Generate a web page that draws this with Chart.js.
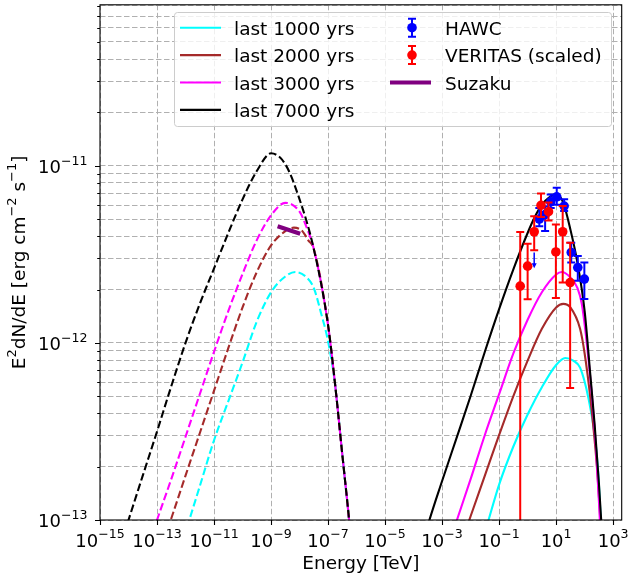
<!DOCTYPE html>
<html>
<head>
<meta charset="utf-8">
<script src="https://cdn.jsdelivr.net/npm/chart.js@4.4.1/dist/chart.umd.min.js"></script>
<style>
  html, body { margin: 0; padding: 0; background: #fff; }
  canvas { display: block; }
</style>
</head>
<body>
<canvas id="sed" width="629" height="582"></canvas>
<script>
// energies in TeV, fluxes E^2 dN/dE in erg cm^-2 s^-1

// synchrotron (dashed)
const syncE7000 = [3.16e-15, 1e-14, 3.16e-14, 1e-13, 3.16e-13, 1e-12, 3.16e-12, 1e-11, 3.16e-11, 1e-10, 3.16e-10, 1e-9, 3.16e-9, 1e-8, 3.16e-8, 1e-7, 1.78e-7, 3.16e-7, 5.62e-7, 7.94e-7];
const syncF7000 = [5.62e-14, 1.0e-13, 1.78e-13, 3.16e-13, 5.69e-13, 1.0e-12, 1.66e-12, 2.63e-12, 4.17e-12, 6.46e-12, 9.33e-12, 1.175e-11, 1.02e-11, 6.46e-12, 3.39e-12, 1.26e-12, 5.75e-13, 2.34e-13, 9.55e-14, 5.0e-14];

const syncE3000 = [3.16e-14, 1e-13, 3.16e-13, 1e-12, 3.16e-12, 1e-11, 3.16e-11, 1e-10, 3.16e-10, 1e-9, 3.16e-9, 1e-8, 1.78e-8, 3.16e-8, 1e-7, 1.78e-7, 3.16e-7, 5.62e-7, 7.94e-7];
const syncF3000 = [5.75e-14, 1.0e-13, 1.70e-13, 2.95e-13, 5.13e-13, 8.91e-13, 1.51e-12, 2.45e-12, 3.80e-12, 5.25e-12, 6.17e-12, 5.50e-12, 4.47e-12, 3.39e-12, 1.26e-12, 5.75e-13, 2.34e-13, 9.55e-14, 5.0e-14];

const syncE2000 = [1e-13, 3.16e-13, 1e-12, 3.16e-12, 1e-11, 3.16e-11, 1e-10, 3.16e-10, 1e-9, 3.16e-9, 6.31e-9, 1.26e-8, 2.0e-8, 3.16e-8, 1e-7, 1.78e-7, 3.16e-7, 5.62e-7, 7.94e-7];
const syncF2000 = [5.89e-14, 1.02e-13, 1.78e-13, 3.09e-13, 5.37e-13, 9.33e-13, 1.585e-12, 2.51e-12, 3.55e-12, 4.27e-12, 4.47e-12, 4.27e-12, 3.80e-12, 3.39e-12, 1.26e-12, 5.75e-13, 2.34e-13, 9.55e-14, 5.0e-14];

const syncE1000 = [3.16e-13, 1e-12, 3.16e-12, 1e-11, 3.16e-11, 1e-10, 3.16e-10, 1e-9, 3.16e-9, 7.08e-9, 1.78e-8, 3.16e-8, 5.62e-8, 1e-7, 1.78e-7, 3.16e-7, 5.62e-7, 7.94e-7];
const syncF1000 = [4.57e-14, 8.51e-14, 1.55e-13, 2.82e-13, 4.68e-13, 7.76e-13, 1.32e-12, 1.93e-12, 2.37e-12, 2.51e-12, 2.34e-12, 2.04e-12, 1.48e-12, 1.02e-12, 5.75e-13, 2.34e-13, 9.55e-14, 5.0e-14];

// inverse Compton (solid)
const icE7000 = [2.0e-4, 3.16e-4, 1e-3, 3.16e-3, 1e-2, 3.16e-2, 0.1, 0.316, 1, 1.78, 3.16, 5.62, 10, 17.8, 31.6, 56.2, 100, 158, 224, 316, 398, 447];
const icF7000 = [7.08e-14, 9.33e-14, 1.66e-13, 2.88e-13, 5.01e-13, 8.91e-13, 1.55e-12, 2.60e-12, 4.17e-12, 5.13e-12, 6.03e-12, 6.61e-12, 6.92e-12, 6.17e-12, 4.37e-12, 2.82e-12, 1.51e-12, 6.61e-13, 3.47e-13, 1.62e-13, 8.91e-14, 6.31e-14];

const icE3000 = [2.0e-3, 3.16e-3, 1e-2, 3.16e-2, 0.1, 0.316, 1, 3.16, 10, 15.8, 31.6, 56.2, 79.4, 117, 178, 251, 331, 398];
const icF3000 = [7.76e-14, 9.77e-14, 1.70e-13, 3.02e-13, 5.13e-13, 8.71e-13, 1.35e-12, 1.93e-12, 2.43e-12, 2.51e-12, 2.34e-12, 2.04e-12, 1.66e-12, 1.02e-12, 5.13e-13, 2.51e-13, 1.12e-13, 5.62e-14];

const icE2000 = [5.0e-3, 1e-2, 3.16e-2, 0.1, 0.316, 1, 3.16, 10, 17.8, 31.6, 69.2, 100, 158, 269, 355, 417];
const icF2000 = [7.59e-14, 1.05e-13, 1.78e-13, 3.02e-13, 5.01e-13, 7.94e-13, 1.20e-12, 1.585e-12, 1.66e-12, 1.585e-12, 1.20e-12, 8.71e-13, 4.90e-13, 2.0e-13, 1.0e-13, 6.03e-14];

const icE1000 = [2.51e-2, 3.16e-2, 0.1, 0.316, 1, 3.16, 10, 20.9, 39.8, 69.2, 135, 234, 295, 355, 417];
const icF1000 = [7.59e-14, 8.51e-14, 1.585e-13, 2.60e-13, 3.94e-13, 5.62e-13, 7.50e-13, 8.22e-13, 7.94e-13, 7.24e-13, 4.90e-13, 2.88e-13, 1.91e-13, 1.12e-13, 6.31e-14];

// Suzaku X-ray band
const suzakuE = [1.70e-9, 1.05e-8];
const suzakuF = [4.56e-12, 4.13e-12];

// HAWC
const hawcE  = [2.57, 4.11, 6.46, 10.5, 19.1, 33.9, 57.5, 97.7];
const hawcF  = [5.0e-12, 5.3e-12, 6.25e-12, 6.67e-12, 5.92e-12, 3.24e-12, 2.66e-12, 2.29e-12];
const hawcHi = [5.78e-12, 5.9e-12, 6.89e-12, 7.5e-12, 6.46e-12, 3.67e-12, 3.09e-12, 2.84e-12];
const hawcLo = [4.56e-12, 4.28e-12, 5.78e-12, 6.03e-12, 5.55e-12, 2.84e-12, 2.24e-12, 1.77e-12];
const hawcUlE = [1.7];
const hawcUlF = [3.24e-12];
const hawcUlTip = [2.64e-12];

// VERITAS (scaled)
const veritasE  = [0.55, 1.0, 1.7, 2.95, 5.4, 9.8, 17, 31];
const veritasF  = [2.09e-12, 2.71e-12, 4.24e-12, 5.98e-12, 5.5e-12, 3.26e-12, 4.24e-12, 2.19e-12];
const veritasHi = [4.22e-12, 3.63e-12, 5.18e-12, 6.97e-12, 6.2e-12, 4.66e-12, 5.92e-12, 3.67e-12];
const veritasLo = [1e-14, 1.76e-12, 3.33e-12, 5.13e-12, 4.9e-12, 1.79e-12, 2.19e-12, 5.57e-13];

const xTicks = [1e-15, 1e-13, 1e-11, 1e-9, 1e-7, 1e-5, 1e-3, 1e-1, 1e1, 1e3];
const yTicks = [1e-13, 2e-13, 3e-13, 4e-13, 5e-13, 6e-13, 7e-13, 8e-13, 9e-13,
                1e-12, 2e-12, 3e-12, 4e-12, 5e-12, 6e-12, 7e-12, 8e-12, 9e-12,
                1e-11, 2e-11, 3e-11, 4e-11, 5e-11, 6e-11, 7e-11, 8e-11];

const CYAN = '#00ffff', BROWN = '#a52a2a', MAGENTA = '#ff00ff', BLACK = '#000000';
const FONT = '"DejaVu Sans"';

const pts = (es, fs) => es.map((e, i) => ({x: e, y: fs[i]}));
const isDecade = v => Math.abs(Math.log10(v) - Math.round(Math.log10(v))) < 1e-6;

function curve(label, color, es, fs, dashed, order, slot) {
  return {
    label: label, data: pts(es, fs), showLine: true, borderColor: color, backgroundColor: color,
    borderWidth: 2.1, borderDash: dashed ? [7.7, 3.3] : [], pointRadius: 0,
    cubicInterpolationMode: 'monotone', clip: 0, order: order, legendSlot: slot
  };
}

// text with mathtext-like superscripts: parts = [[text, isSup], ...]
function measureParts(ctx, parts, size) {
  let w = 0;
  parts.forEach(([t, sup]) => {
    ctx.font = (sup ? size * 0.7 : size) + 'px ' + FONT;
    w += ctx.measureText(t).width;
  });
  return w;
}
function drawParts(ctx, parts, size, x, base) {
  parts.forEach(([t, sup]) => {
    ctx.font = (sup ? size * 0.7 : size) + 'px ' + FONT;
    ctx.fillText(t, x, sup ? base - size * 0.465 : base);
    x += ctx.measureText(t).width;
  });
}
const powParts = v => {
  const e = Math.round(Math.log10(v));
  return [['10', false], [(e < 0 ? '\u2212' : '') + Math.abs(e), true]];
};

// error bars and upper-limit arrows, drawn just before each point set
const errorBars = {
  id: 'errorBars',
  beforeDatasetDraw(chart, args) {
    const ds = chart.data.datasets[args.index];
    if (!ds.errLo && !ds.ulTip) return;
    const {ctx, chartArea: a, scales: {x, y}} = chart;
    ctx.save();
    ctx.beginPath();
    ctx.rect(a.left, a.top, a.right - a.left, a.bottom - a.top);
    ctx.clip();
    ctx.strokeStyle = ds.borderColor;
    ctx.fillStyle = ds.borderColor;
    ds.data.forEach((p, i) => {
      const px = x.getPixelForValue(p.x);
      if (ds.errLo) {
        const y1 = y.getPixelForValue(ds.errLo[i]);
        const y2 = y.getPixelForValue(ds.errHi[i]);
        ctx.lineWidth = 2;
        ctx.beginPath();
        ctx.moveTo(px, y1); ctx.lineTo(px, y2);
        ctx.moveTo(px - 4, y1); ctx.lineTo(px + 4, y1);
        ctx.moveTo(px - 4, y2); ctx.lineTo(px + 4, y2);
        ctx.stroke();
      } else {
        const y1 = y.getPixelForValue(p.y);
        const y2 = y.getPixelForValue(ds.ulTip[i]);
        ctx.lineWidth = 1.5;
        ctx.beginPath();
        ctx.moveTo(px, y1); ctx.lineTo(px, y2 - 4);
        ctx.stroke();
        ctx.beginPath();
        ctx.moveTo(px - 2.5, y2 - 5); ctx.lineTo(px + 2.5, y2 - 5); ctx.lineTo(px, y2);
        ctx.closePath();
        ctx.fill();
      }
    });
    ctx.restore();
  }
};

// axes box, outward tick marks, tick labels and y title
const frame = {
  id: 'frame',
  afterDatasetsDraw(chart) {
    const {ctx, chartArea: a, scales: {x, y}} = chart;
    ctx.save();
    ctx.strokeStyle = '#000';
    ctx.lineWidth = 1.1;
    ctx.strokeRect(a.left, a.top, a.right - a.left, a.bottom - a.top);
    ctx.beginPath();
    x.ticks.forEach(t => {
      const px = Math.round(x.getPixelForValue(t.value)) + 0.5;
      ctx.moveTo(px, a.bottom); ctx.lineTo(px, a.bottom + 5);
    });
    y.ticks.forEach(t => {
      const py = Math.round(y.getPixelForValue(t.value)) + 0.5;
      ctx.moveTo(a.left, py); ctx.lineTo(a.left - (isDecade(t.value) ? 5 : 2.8), py);
    });
    ctx.stroke();

    ctx.fillStyle = '#000';
    ctx.textAlign = 'left';
    ctx.textBaseline = 'alphabetic';
    x.ticks.forEach(t => {
      const parts = powParts(t.value);
      const w = measureParts(ctx, parts, 18);
      drawParts(ctx, parts, 18, x.getPixelForValue(t.value) - w / 2, a.bottom + 26.7);
    });
    y.ticks.forEach(t => {
      if (!isDecade(t.value)) return;
      const parts = powParts(t.value);
      const w = measureParts(ctx, parts, 18);
      drawParts(ctx, parts, 18, a.left - 12.5 - w, y.getPixelForValue(t.value) + 7.3);
    });

    const title = [['E', false], ['2', true], ['dN/dE [erg cm', false], ['\u22122', true],
                   [' s', false], ['\u22121', true], [']', false]];
    const tw = measureParts(ctx, title, 18.5);
    ctx.translate(25, (a.top + a.bottom) / 2);
    ctx.rotate(-Math.PI / 2);
    drawParts(ctx, title, 18.5, -tw / 2, 0);
    ctx.restore();
  }
};

// two-column legend in the upper right
const legendBox = {
  id: 'legendBox',
  afterDraw(chart) {
    const ctx = chart.ctx;
    ctx.save();
    ctx.beginPath();
    ctx.roundRect(174.5, 12.5, 437, 114, 3);
    ctx.fillStyle = 'rgba(255,255,255,0.8)';
    ctx.fill();
    ctx.strokeStyle = '#cccccc';
    ctx.lineWidth = 1;
    ctx.stroke();
    ctx.font = '18.5px ' + FONT;
    ctx.textBaseline = 'alphabetic';
    ctx.textAlign = 'left';
    chart.data.datasets.forEach(ds => {
      if (!ds.legendSlot) return;
      const [col, row] = ds.legendSlot;
      const cy = 27.7 + 27.4 * row;
      const hx = col ? 390 : 180;
      const tx = col ? 445 : 234;
      ctx.strokeStyle = ds.borderColor;
      ctx.fillStyle = ds.borderColor;
      if (ds.showLine) {
        ctx.lineWidth = ds.borderWidth;
        ctx.setLineDash([]);
        ctx.beginPath();
        ctx.moveTo(hx, cy); ctx.lineTo(hx + 41, cy);
        ctx.stroke();
      } else {
        const mx = hx + 22;
        ctx.lineWidth = 2;
        ctx.beginPath();
        ctx.moveTo(mx, cy - 9); ctx.lineTo(mx, cy + 9);
        ctx.moveTo(mx - 4, cy - 9); ctx.lineTo(mx + 4, cy - 9);
        ctx.moveTo(mx - 4, cy + 9); ctx.lineTo(mx + 4, cy + 9);
        ctx.stroke();
        ctx.beginPath();
        ctx.arc(mx, cy, 4.8, 0, Math.PI * 2);
        ctx.fill();
      }
      ctx.fillStyle = '#000';
      ctx.fillText(ds.label, tx, cy + 7.3);
    });
    ctx.restore();
  }
};

Chart.defaults.font.family = FONT;
Chart.defaults.color = '#000';

const datasets = [
  {
    label: 'VERITAS (scaled)', data: pts(veritasE, veritasF), showLine: false,
    pointRadius: 4.8, pointBorderWidth: 0, borderColor: '#ff0000', backgroundColor: '#ff0000',
    pointBackgroundColor: '#ff0000', errLo: veritasLo, errHi: veritasHi, order: 0, legendSlot: [1, 1]
  },
  {
    label: 'HAWC', data: pts(hawcE, hawcF), showLine: false,
    pointRadius: 4.8, pointBorderWidth: 0, borderColor: '#0000ff', backgroundColor: '#0000ff',
    pointBackgroundColor: '#0000ff', errLo: hawcLo, errHi: hawcHi, order: 1, legendSlot: [1, 0]
  },
  {
    label: 'HAWC upper limit', data: pts(hawcUlE, hawcUlF), showLine: false,
    pointRadius: 0, borderColor: '#0000ff', backgroundColor: '#0000ff', ulTip: hawcUlTip, order: 1
  },
  {
    label: 'Suzaku', data: pts(suzakuE, suzakuF), showLine: true, borderColor: '#800080',
    backgroundColor: '#800080', borderWidth: 4.2, pointRadius: 0, clip: 0, order: 2, legendSlot: [1, 2]
  },
  curve('last 7000 yrs', BLACK, icE7000, icF7000, false, 3, [0, 3]),
  curve('last 7000 yrs (sync)', BLACK, syncE7000, syncF7000, true, 3),
  curve('last 3000 yrs', MAGENTA, icE3000, icF3000, false, 4, [0, 2]),
  curve('last 3000 yrs (sync)', MAGENTA, syncE3000, syncF3000, true, 4),
  curve('last 2000 yrs', BROWN, icE2000, icF2000, false, 5, [0, 1]),
  curve('last 2000 yrs (sync)', BROWN, syncE2000, syncF2000, true, 5),
  curve('last 1000 yrs', CYAN, icE1000, icF1000, false, 6, [0, 0]),
  curve('last 1000 yrs (sync)', CYAN, syncE1000, syncF1000, true, 6)
];

new Chart(document.getElementById('sed'), {
  type: 'scatter',
  data: { datasets: datasets },
  options: {
    responsive: false,
    animation: false,
    devicePixelRatio: 1,
    layout: { padding: { left: 0, right: 7.3, top: 3, bottom: 0 } },
    plugins: { legend: { display: false }, tooltip: { enabled: false } },
    scales: {
      x: {
        type: 'logarithmic',
        min: 1e-15,
        max: Math.pow(10, 3.3),
        afterBuildTicks: s => { s.ticks = xTicks.map(v => ({ value: v })); },
        afterFit: s => { s.height = 62; s.paddingLeft = 0; s.paddingRight = 0; },
        grid: { color: '#b0b0b0', lineWidth: 1, drawTicks: false },
        border: { display: false, dash: [5.5, 2.5] },
        ticks: { display: false, autoSkip: false, maxRotation: 0, minRotation: 0 },
        title: { display: true, text: 'Energy [TeV]', font: { size: 18.5 }, padding: { top: 0, bottom: 7 } }
      },
      y: {
        type: 'logarithmic',
        min: 1e-13,
        max: 8.1e-11,
        afterBuildTicks: s => { s.ticks = yTicks.map(v => ({ value: v })); },
        afterFit: s => { s.width = 100; s.paddingTop = 0; s.paddingBottom = 0; },
        grid: { color: '#b0b0b0', lineWidth: 1, drawTicks: false },
        border: { display: false, dash: [5.5, 2.5] },
        ticks: { display: false, autoSkip: false }
      }
    }
  },
  plugins: [errorBars, frame, legendBox]
});
</script>
</body>
</html>
